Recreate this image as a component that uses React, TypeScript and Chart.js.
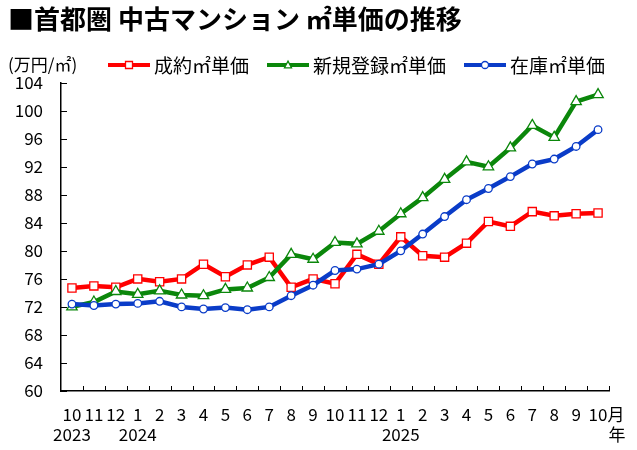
import { useEffect, useRef } from "react";
import { Chart, registerables } from "chart.js";

Chart.register(...registerables);

const FONT = "'Noto Sans CJK JP', 'Noto Sans', sans-serif";

const TITLE = "■首都圏 中古マンション ㎡単価の推移";
const UNIT_LABEL = "(万円/㎡)";

// 2023/10 〜 2025/10
const months = ["10", "11", "12", "1", "2", "3", "4", "5", "6", "7", "8", "9", "10", "11", "12", "1", "2", "3", "4", "5", "6", "7", "8", "9", "10"];
const years = ["2023", "", "", "2024", "", "", "", "", "", "", "", "", "", "", "", "2025", "", "", "", "", "", "", "", "", ""];

const seiyaku = [74.7, 75.0, 74.8, 76.0, 75.6, 76.0, 78.1, 76.3, 78.0, 79.1, 74.8, 76.0, 75.3, 79.5, 78.1, 82.0, 79.3, 79.1, 81.1, 84.2, 83.5, 85.6, 85.0, 85.3, 85.4];
const shinki = [72.0, 72.7, 74.2, 73.8, 74.3, 73.7, 73.6, 74.5, 74.7, 76.2, 79.5, 78.8, 81.2, 81.0, 82.8, 85.3, 87.6, 90.2, 92.7, 92.0, 94.7, 97.9, 96.2, 101.3, 102.3];
const zaiko = [72.4, 72.2, 72.4, 72.5, 72.8, 72.0, 71.7, 71.9, 71.6, 72.0, 73.6, 75.1, 77.2, 77.4, 78.1, 80.0, 82.4, 84.9, 87.3, 88.9, 90.6, 92.4, 93.1, 94.9, 97.3];

const Y_MIN = 60;
const Y_MAX = 104;
const Y_STEP = 4;

const RED = "#ff0000";
const GREEN = "#0b870b";
const BLUE = "#0a3cc8";

const LEGEND_X = 108;
const LEGEND_Y = 65;
const TICK_PAD = 14;
const TICK_LINE = 19.5;

function drawMarker(ctx: CanvasRenderingContext2D, style: string, x: number, y: number, size: number, color: string) {
    ctx.save();
    ctx.fillStyle = "#fff";
    ctx.strokeStyle = color;
    ctx.lineWidth = 1.3;
    ctx.beginPath();
    if (style === "rect") {
        ctx.rect(x - size / 2, y - size / 2, size, size);
    } else if (style === "triangle") {
        ctx.moveTo(x, y - size * 0.55);
        ctx.lineTo(x + size / 2, y + size * 0.4);
        ctx.lineTo(x - size / 2, y + size * 0.4);
        ctx.closePath();
    } else {
        ctx.arc(x, y, size / 2, 0, Math.PI * 2);
    }
    ctx.fill();
    ctx.stroke();
    ctx.restore();
}

// 凡例・単位・月/年・内向き目盛
const decorPlugin = {
    id: "decor",
    afterDraw(chart: any) {
        const ctx: CanvasRenderingContext2D = chart.ctx;
        const { left, right, bottom } = chart.chartArea;
        const xs = chart.scales.x;
        const ys = chart.scales.y;
        ctx.save();

        // inner ticks
        ctx.strokeStyle = "#000";
        ctx.lineWidth = 1;
        ctx.beginPath();
        ys.ticks.forEach((_t: any, i: number) => {
            const y = Math.round(ys.getPixelForTick(i)) + 0.5;
            ctx.moveTo(left, y);
            ctx.lineTo(left + 6, y);
        });
        const n = months.length;
        for (let i = 1; i <= n; i++) {
            const x = Math.round(left + ((right - left) * i) / n) + 0.5;
            ctx.moveTo(x, bottom);
            ctx.lineTo(x, bottom - 5);
        }
        ctx.stroke();

        // 月 / 年
        ctx.fillStyle = "#000";
        ctx.textBaseline = "middle";
        ctx.textAlign = "left";
        ctx.font = `17px ${FONT}`;
        const lastX = xs.getPixelForValue(n - 1) + ctx.measureText(months[n - 1]).width / 2;
        ctx.fillText("月", lastX, bottom + TICK_PAD + TICK_LINE / 2);
        ctx.fillText("年", lastX + 1, bottom + TICK_PAD + TICK_LINE * 1.5);

        // unit
        ctx.fillText(UNIT_LABEL, 8, LEGEND_Y);

        // legend
        ctx.font = `19px ${FONT}`;
        let x = LEGEND_X;
        chart.data.datasets.forEach((ds: any) => {
            ctx.strokeStyle = ds.borderColor;
            ctx.lineWidth = 4;
            ctx.beginPath();
            ctx.moveTo(x, LEGEND_Y);
            ctx.lineTo(x + 42, LEGEND_Y);
            ctx.stroke();
            drawMarker(ctx, ds.pointStyle, x + 21, LEGEND_Y, 7, ds.borderColor);
            ctx.fillStyle = "#000";
            ctx.fillText(ds.label, x + 46, LEGEND_Y + 1);
            x += 46 + ctx.measureText(ds.label).width + 18;
        });
        ctx.restore();
    },
};

const App = () => {
    const chartRef = useRef<HTMLCanvasElement | null>(null);
    const chartInstanceRef = useRef<Chart | null>(null);

    useEffect(() => {
        document.body.style.margin = "0";
        if (!chartRef.current) return;
        const ctx = chartRef.current.getContext("2d");
        if (!ctx) return;
        if (chartInstanceRef.current) chartInstanceRef.current.destroy();

        const labels = months.map((m, i) => [m, years[i]]);

        const lineDataset = (label: string, data: number[], color: string, pointStyle: string, radius: number, order: number) => ({
            label,
            data,
            borderColor: color,
            backgroundColor: color,
            borderWidth: 4.5,
            tension: 0,
            pointStyle,
            pointRadius: radius,
            pointHoverRadius: radius,
            pointBackgroundColor: "#ffffff",
            pointBorderColor: color,
            pointBorderWidth: 1.3,
            order,
        });

        chartInstanceRef.current = new Chart(ctx, {
            type: "line",
            data: {
                labels,
                datasets: [
                    lineDataset("成約㎡単価", seiyaku, RED, "rect", 5.8, 2),
                    lineDataset("新規登録㎡単価", shinki, GREEN, "triangle", 6, 1),
                    lineDataset("在庫㎡単価", zaiko, BLUE, "circle", 3.8, 0),
                ] as any,
            },
            options: {
                responsive: true,
                maintainAspectRatio: false,
                animation: false,
                layout: { padding: { left: 8, right: 28, top: 0, bottom: 0 } },
                plugins: {
                    legend: { display: false },
                    tooltip: { enabled: false },
                    title: {
                        display: true,
                        text: TITLE,
                        align: "start",
                        color: "#000",
                        font: { family: FONT, size: 26, weight: "bold" },
                        padding: { top: 4, bottom: 47.5 },
                    },
                },
                scales: {
                    x: {
                        offset: true,
                        grid: { drawOnChartArea: false, drawTicks: false },
                        border: { color: "#000", width: 1.5 },
                        ticks: {
                            autoSkip: false,
                            maxRotation: 0,
                            minRotation: 0,
                            padding: TICK_PAD,
                            color: "#000",
                            font: { family: FONT, size: 17, lineHeight: TICK_LINE / 17 },
                        },
                        afterFit: (s: any) => {
                            s.height = 59;
                        },
                    },
                    y: {
                        min: Y_MIN,
                        max: Y_MAX,
                        grid: { drawOnChartArea: false, drawTicks: false },
                        border: { color: "#000", width: 1.5 },
                        ticks: {
                            stepSize: Y_STEP,
                            padding: 18,
                            color: "#000",
                            font: { family: FONT, size: 17 },
                        },
                        afterFit: (s: any) => {
                            s.width = 53;
                        },
                    },
                },
            },
            plugins: [decorPlugin],
        });

        return () => {
            if (chartInstanceRef.current) {
                chartInstanceRef.current.destroy();
                chartInstanceRef.current = null;
            }
        };
    }, []);

    return (
        <div style={{ position: "relative", width: 637, height: 450, background: "#fff" }}>
            <canvas ref={chartRef} />
        </div>
    );
};

export default App;
